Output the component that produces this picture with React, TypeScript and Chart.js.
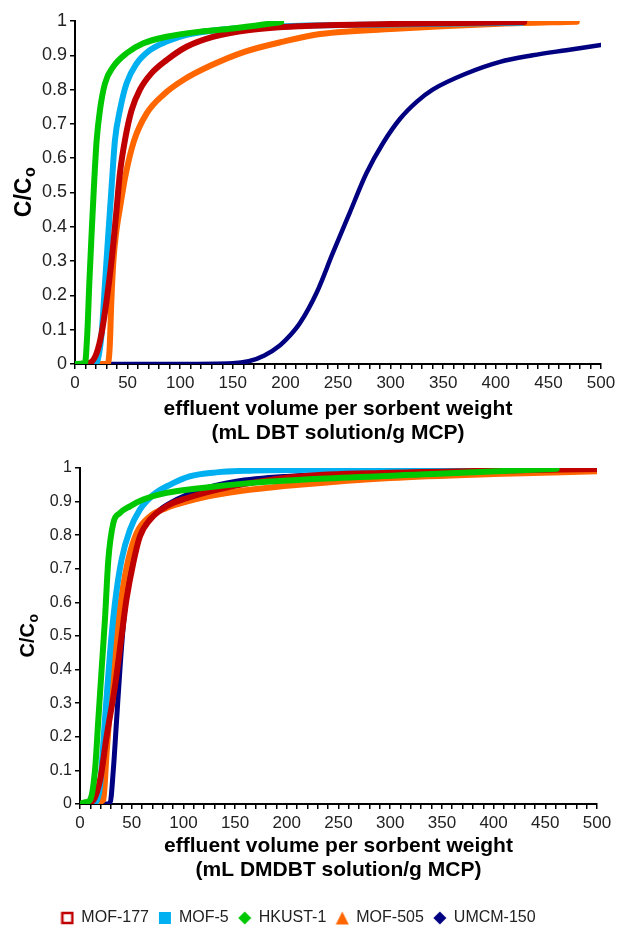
import React, { useEffect, useRef } from 'react';
import { Chart, registerables } from 'chart.js';

Chart.register(...registerables);

const FONT = '"Liberation Sans", Arial, Helvetica, sans-serif';

// ---------- series ----------
const SERIES_NAMES = ['MOF-177', 'MOF-5', 'HKUST-1', 'MOF-505', 'UMCM-150'];
const SERIES_COLORS = ['#c00000', '#00b0f0', '#00c800', '#ff6600', '#000080'];
const SERIES_MARKERS = ['hollowSquare', 'square', 'diamond', 'triangle', 'diamond'];
const SERIES_ORDER = [1, 2, 0, 3, 4]; // lower drawn on top

// ---------- axes ----------
const X_MIN = 0;
const X_MAX = 500;
const X_STEP = 10;
const X_LABEL_STEP = 50;
const Y_MIN = 0;
const Y_MAX = 1;
const Y_STEP = 0.1;
const X_TITLE_DBT = ['effluent volume per sorbent weight', '(mL DBT solution/g MCP)'];
const X_TITLE_DMDBT = ['effluent volume per sorbent weight', '(mL DMDBT solution/g MCP)'];
const Y_TITLE_MAIN = 'C/C';
const Y_TITLE_SUB = 'o';

// ---------- DBT (top) ----------
const dbtMof177X = [5, 14, 20.6, 25.3, 30.1, 34.8, 38.9, 42.7, 47.5, 53.8, 61.7, 72.8, 87, 106, 131, 166, 214, 300, 427];
const dbtMof177Y = [0, 0.003, 0.032, 0.09, 0.186, 0.303, 0.43, 0.556, 0.653, 0.74, 0.8, 0.848, 0.886, 0.925, 0.954, 0.974, 0.985, 0.991, 0.997];
const dbtMof5X = [15, 20.6, 25.3, 28.5, 31.7, 34.8, 38, 42.7, 49, 58.6, 71.2, 87, 106, 150, 200, 300, 425];
const dbtMof5Y = [0, 0.003, 0.089, 0.234, 0.38, 0.517, 0.653, 0.74, 0.818, 0.876, 0.915, 0.94, 0.96, 0.978, 0.985, 0.99, 0.995];
const dbtHkustX = [0, 9.5, 11.7, 13.6, 15.8, 18, 20.6, 23.7, 28.5, 36.4, 49, 65, 87, 119, 150, 196];
const dbtHkustY = [0, 0.003, 0.09, 0.235, 0.381, 0.517, 0.653, 0.74, 0.818, 0.867, 0.906, 0.935, 0.954, 0.969, 0.978, 0.997];
const dbtMof505X = [22, 31, 33, 34.5, 36.5, 39, 43, 48, 56, 68, 84, 104, 129, 161, 198, 233, 309, 404, 477];
const dbtMof505Y = [0, 0, 0.05, 0.18, 0.3, 0.38, 0.46, 0.55, 0.65, 0.73, 0.785, 0.83, 0.87, 0.91, 0.94, 0.962, 0.978, 0.992, 0.998];
const dbtUmcmX = [30, 100, 150, 165, 180, 195, 205, 214, 230, 245, 261, 277, 293, 309, 325, 340, 372, 404, 435, 467, 500];
const dbtUmcmY = [0, 0, 0.002, 0.008, 0.025, 0.055, 0.085, 0.12, 0.21, 0.323, 0.44, 0.556, 0.645, 0.715, 0.765, 0.8, 0.847, 0.881, 0.9, 0.915, 0.93];

// ---------- DMDBT (bottom) ----------
const dmdbtMof177X = [0, 8, 12, 16, 20, 25.7, 33.8, 40.2, 45, 51.5, 57.9, 67.6, 83.7, 103, 132, 164, 212, 300, 400, 500];
const dmdbtMof177Y = [0, 0.005, 0.008, 0.032, 0.08, 0.2, 0.35, 0.5, 0.61, 0.717, 0.796, 0.846, 0.886, 0.91, 0.935, 0.955, 0.975, 0.986, 0.992, 0.997];
const dmdbtMof5X = [8, 15, 19.3, 24.1, 29, 33.8, 40.2, 48.3, 57.9, 70.8, 86.9, 106, 132, 164, 250, 350, 500];
const dmdbtMof5Y = [0, 0.005, 0.052, 0.25, 0.449, 0.598, 0.727, 0.816, 0.876, 0.92, 0.95, 0.975, 0.987, 0.992, 0.995, 0.996, 0.998];
const dmdbtHkustX = [0, 5, 9.7, 14.5, 17.7, 20.9, 24.1, 27.4, 32.2, 38.6, 48.3, 61.1, 83.7, 116, 164, 232, 341, 461];
const dmdbtHkustY = [0, 0.005, 0.012, 0.1, 0.25, 0.4, 0.548, 0.727, 0.836, 0.866, 0.886, 0.906, 0.926, 0.94, 0.955, 0.968, 0.982, 0.998];
const dmdbtMof505X = [0, 10, 20, 22.5, 25.7, 30.6, 35.4, 40.2, 46.7, 54.7, 67.6, 83.7, 103, 132, 164, 212, 300, 400, 500];
const dmdbtMof505Y = [0, 0.005, 0.008, 0.012, 0.151, 0.35, 0.5, 0.618, 0.727, 0.806, 0.856, 0.881, 0.9, 0.92, 0.935, 0.95, 0.97, 0.982, 0.99];
const dmdbtUmcmX = [22, 29, 32.2, 35.4, 38.6, 41.8, 46.7, 54.7, 64.4, 77.2, 93.3, 116, 150, 200, 300, 400, 500];
const dmdbtUmcmY = [0, 0.002, 0.1, 0.25, 0.4, 0.528, 0.667, 0.777, 0.836, 0.876, 0.906, 0.935, 0.96, 0.975, 0.985, 0.99, 0.995];

const DBT_X = [dbtMof177X, dbtMof5X, dbtHkustX, dbtMof505X, dbtUmcmX];
const DBT_Y = [dbtMof177Y, dbtMof5Y, dbtHkustY, dbtMof505Y, dbtUmcmY];
const DMDBT_X = [dmdbtMof177X, dmdbtMof5X, dmdbtHkustX, dmdbtMof505X, dmdbtUmcmX];
const DMDBT_Y = [dmdbtMof177Y, dmdbtMof5Y, dmdbtHkustY, dmdbtMof505Y, dmdbtUmcmY];

function makeMarker(kind: string, color: string): HTMLCanvasElement {
  const c = document.createElement('canvas');
  c.width = 14;
  c.height = 14;
  const g = c.getContext('2d')!;
  g.fillStyle = color;
  g.strokeStyle = color;
  if (kind === 'hollowSquare') {
    g.fillStyle = '#fff';
    g.fillRect(1.5, 1.5, 11, 11);
    g.lineWidth = 2.5;
    g.strokeRect(2, 2, 10, 10);
  } else if (kind === 'square') {
    g.fillRect(1, 1, 12, 12);
  } else if (kind === 'diamond') {
    g.beginPath();
    g.moveTo(7, 0.5);
    g.lineTo(13.5, 7);
    g.lineTo(7, 13.5);
    g.lineTo(0.5, 7);
    g.closePath();
    g.fill();
  } else {
    g.beginPath();
    g.moveTo(7, 0.5);
    g.lineTo(13.5, 13.5);
    g.lineTo(0.5, 13.5);
    g.closePath();
    g.fill();
  }
  return c;
}

const yTitlePlugin = {
  id: 'yTitle',
  afterDraw(chart: any, _args: any, opts: any) {
    const { ctx, chartArea } = chart;
    const cy = (chartArea.top + chartArea.bottom) / 2;
    const size = opts.size;
    const subSize = Math.round(size * 0.68);
    ctx.save();
    ctx.translate(opts.x, cy);
    ctx.rotate(-Math.PI / 2);
    ctx.fillStyle = '#000';
    ctx.textAlign = 'left';
    ctx.textBaseline = 'alphabetic';
    ctx.font = `bold ${size}px ${FONT}`;
    const w1 = ctx.measureText(Y_TITLE_MAIN).width;
    ctx.font = `bold ${subSize}px ${FONT}`;
    const w2 = ctx.measureText(Y_TITLE_SUB).width;
    const start = -(w1 + w2) / 2;
    const base = size * 0.36;
    ctx.font = `bold ${size}px ${FONT}`;
    ctx.fillText(Y_TITLE_MAIN, start, base);
    ctx.font = `bold ${subSize}px ${FONT}`;
    ctx.fillText(Y_TITLE_SUB, start + w1 + 0.5, base + size * 0.18);
    ctx.restore();
  },
};

function makeDatasets(xs: number[][], ys: number[][], widths: number[]) {
  return SERIES_NAMES.map((name, i) => ({
    label: name,
    data: xs[i].map((x, j) => ({ x, y: ys[i][j] })),
    borderColor: SERIES_COLORS[i],
    backgroundColor: SERIES_COLORS[i],
    borderWidth: widths[i],
    pointRadius: 0,
    pointHoverRadius: 0,
    showLine: true,
    fill: false,
    cubicInterpolationMode: 'monotone' as const,
    borderCapStyle: 'round' as const,
    borderJoinStyle: 'round' as const,
    order: SERIES_ORDER[i],
  }));
}

function makeScales(o: {
  xTitle: string[];
  xHeight: number;
  yWidth: number;
  xFont: number;
  yFont: number;
  titlePad: number;
}) {
  const grid = {
    drawOnChartArea: false,
    drawTicks: true,
    tickLength: 5,
    color: '#000',
    lineWidth: 1.5,
  };
  const border = { display: true, color: '#000', width: 2 };
  return {
    x: {
      type: 'linear' as const,
      min: X_MIN,
      max: X_MAX,
      afterFit: (s: any) => {
        s.height = o.xHeight;
      },
      ticks: {
        stepSize: X_STEP,
        autoSkip: false,
        maxRotation: 0,
        minRotation: 0,
        padding: 4,
        color: '#222',
        font: { size: o.xFont, family: FONT },
        callback: (v: any) => (Math.round(v) % X_LABEL_STEP === 0 ? String(Math.round(v)) : ''),
      },
      grid,
      border,
      title: {
        display: true,
        text: o.xTitle,
        color: '#000',
        font: { size: 21, weight: 'bold' as const, family: FONT, lineHeight: 1.15 },
        padding: { top: 0, bottom: o.titlePad },
      },
    },
    y: {
      type: 'linear' as const,
      min: Y_MIN,
      max: Y_MAX,
      afterFit: (s: any) => {
        s.width = o.yWidth;
      },
      ticks: {
        stepSize: Y_STEP,
        padding: 3,
        color: '#222',
        font: { size: o.yFont, family: FONT },
        callback: (v: any) => String(Math.round(v * 10) / 10),
      },
      grid,
      border,
    },
  };
}

export default function App() {
  const topRef = useRef<HTMLCanvasElement>(null);
  const botRef = useRef<HTMLCanvasElement>(null);

  useEffect(() => {
    Chart.defaults.font.family = FONT;
    const markers = SERIES_NAMES.map((_, i) => makeMarker(SERIES_MARKERS[i], SERIES_COLORS[i]));

    const top = new Chart(topRef.current!, {
      type: 'scatter',
      data: { datasets: makeDatasets(DBT_X, DBT_Y, [6, 6, 6, 6, 4.5]) as any },
      options: {
        responsive: false,
        animation: false,
        layout: { padding: { left: 0, right: 20, top: 21, bottom: 0 } },
        scales: makeScales({ xTitle: X_TITLE_DBT, xHeight: 81, yWidth: 75, xFont: 17, yFont: 18, titlePad: 0 }) as any,
        plugins: {
          legend: { display: false },
          tooltip: { enabled: false },
          yTitle: { x: 23, size: 23 },
        } as any,
      },
      plugins: [yTitlePlugin],
    });

    const bottom = new Chart(botRef.current!, {
      type: 'scatter',
      data: { datasets: makeDatasets(DMDBT_X, DMDBT_Y, [6, 6, 6, 6, 5]) as any },
      options: {
        responsive: false,
        animation: false,
        layout: { padding: { left: 0, right: 24, top: 23, bottom: 0 } },
        scales: makeScales({ xTitle: X_TITLE_DMDBT, xHeight: 96, yWidth: 80, xFont: 17, yFont: 16, titlePad: 18 }) as any,
        plugins: {
          legend: {
            display: true,
            position: 'bottom',
            labels: {
              usePointStyle: true,
              boxWidth: 12,
              boxHeight: 12,
              padding: 10,
              color: '#222',
              font: { size: 16, family: FONT },
              generateLabels: () =>
                SERIES_NAMES.map((name, i) => ({
                  text: name,
                  fillStyle: SERIES_COLORS[i],
                  strokeStyle: SERIES_COLORS[i],
                  lineWidth: 0,
                  pointStyle: markers[i],
                  hidden: false,
                  datasetIndex: i,
                  fontColor: '#222',
                })),
            },
          },
          tooltip: { enabled: false },
          yTitle: { x: 27, size: 20 },
        } as any,
      },
      plugins: [yTitlePlugin],
    });

    return () => {
      top.destroy();
      bottom.destroy();
    };
  }, []);

  return (
    <div
      style={{
        position: 'absolute',
        left: 0,
        top: 0,
        width: 621,
        height: 930,
        overflow: 'hidden',
        background: '#fff',
      }}
    >
      <canvas ref={topRef} width={621} height={445} style={{ position: 'absolute', left: 0, top: 0 }} />
      <canvas ref={botRef} width={621} height={491} style={{ position: 'absolute', left: 0, top: 445 }} />
    </div>
  );
}
